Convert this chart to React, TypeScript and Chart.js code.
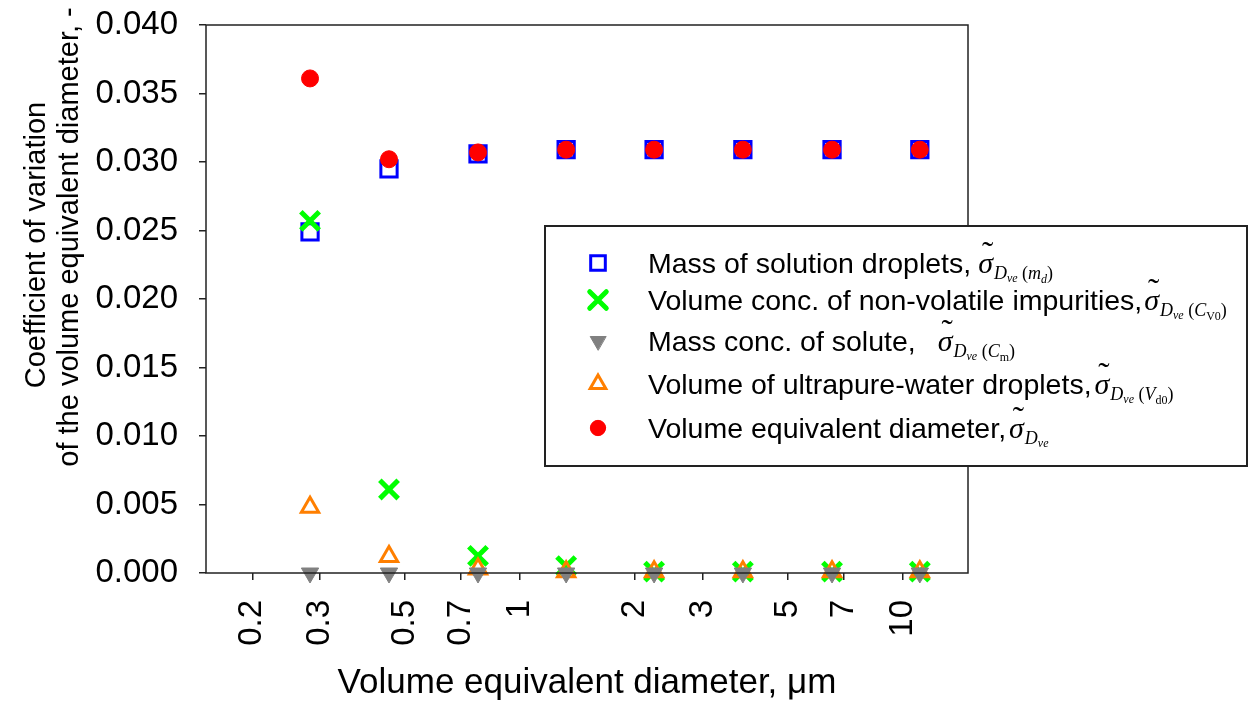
import React, { useEffect, useRef } from 'react';
import { Chart, registerables } from 'chart.js';

Chart.register(...registerables);

// ---- data ----
const diameters = [0.283, 0.455, 0.777, 1.32, 2.24, 3.82, 6.53, 11.07];
const massSolutionDroplets = [0.0249, 0.0295, 0.0306, 0.0309, 0.0309, 0.0309, 0.0309, 0.0309];
const volConcImpurities = [0.0257, 0.0061, 0.00125, 0.0005, 0.0001, 0.0001, 0.0001, 0.0001];
const massConcSolute = [0, 0, 0, 0, 0, 0, 0, 0];
const volUltrapureWater = [0.0048, 0.0012, 0.0003, 0.0001, 0.0001, 0.0001, 0.0001, 0.0001];
const volEquivDiameter = [0.0361, 0.0302, 0.0307, 0.0309, 0.0309, 0.0309, 0.0309, 0.0309];

const xTickValues = [0.2, 0.3, 0.5, 0.7, 1, 2, 3, 5, 7, 10];
const xTickLabels = ['0.2', '0.3', '0.5', '0.7', '1', '2', '3', '5', '7', '10'];
const yTickStep = 0.005;

const seriesLabels = [
  'Mass of solution droplets,',
  'Volume conc. of non-volatile impurities,',
  'Mass conc. of solute,',
  'Volume of ultrapure-water droplets,',
  'Volume equivalent diameter,',
];
const xTitle = 'Volume equivalent diameter, \u03bcm';
const yTitleLines = ['Coefficient of variation', 'of the volume equivalent diameter, -'];

const COLORS = {
  blue: '#0000ff',
  green: '#00ff00',
  gray: '#808080',
  orange: '#ff7f00',
  red: '#ff0000',
};

const SANS = '"Liberation Sans", Arial, sans-serif';
const SERIF = '"Liberation Serif", "Times New Roman", serif';

type Run = { t: string; f: string; dy: number };

const subRuns = (inner: Run[]): Run[] => {
  const runs: Run[] = [
    { t: 'D', f: `italic 18px ${SERIF}`, dy: 6 },
    { t: 've', f: `italic 12px ${SERIF}`, dy: 9 },
  ];
  if (inner.length) {
    runs.push({ t: ' (', f: `18px ${SERIF}`, dy: 6 });
    runs.push(...inner);
    runs.push({ t: ')', f: `18px ${SERIF}`, dy: 6 });
  }
  return runs;
};

const legendMath: Run[][] = [
  subRuns([
    { t: 'm', f: `italic 18px ${SERIF}`, dy: 6 },
    { t: 'd', f: `italic 12px ${SERIF}`, dy: 10 },
  ]),
  subRuns([
    { t: 'C', f: `italic 18px ${SERIF}`, dy: 6 },
    { t: 'V0', f: `12px ${SERIF}`, dy: 10 },
  ]),
  subRuns([
    { t: 'C', f: `italic 18px ${SERIF}`, dy: 6 },
    { t: 'm', f: `12px ${SERIF}`, dy: 10 },
  ]),
  subRuns([
    { t: 'V', f: `italic 18px ${SERIF}`, dy: 6 },
    { t: 'd0', f: `12px ${SERIF}`, dy: 10 },
  ]),
  subRuns([]),
];
const legendGaps = [7, 2, 22, 3, 3];

type Marker = { style: string; color: string; fill: boolean; r: number; lw: number; rot: number };
const markers: Marker[] = [
  { style: 'rect', color: COLORS.blue, fill: false, r: 11.5, lw: 3, rot: 0 },
  { style: 'crossRot', color: COLORS.green, fill: false, r: 13, lw: 5, rot: 0 },
  { style: 'triangle', color: COLORS.gray, fill: true, r: 10, lw: 1, rot: 180 },
  { style: 'triangle', color: COLORS.orange, fill: false, r: 10, lw: 3, rot: 0 },
  { style: 'circle', color: COLORS.red, fill: true, r: 8.5, lw: 1, rot: 0 },
];

function drawMarker(ctx: CanvasRenderingContext2D, m: Marker, x: number, y: number, scale = 1) {
  const r = m.r * scale;
  ctx.save();
  ctx.strokeStyle = m.color;
  ctx.fillStyle = m.color;
  ctx.lineWidth = m.lw;
  ctx.lineCap = 'round';
  ctx.lineJoin = 'miter';
  ctx.beginPath();
  if (m.style === 'rect') {
    const s = Math.SQRT1_2 * r;
    ctx.rect(x - s, y - s, 2 * s, 2 * s);
  } else if (m.style === 'circle') {
    ctx.arc(x, y, r, 0, Math.PI * 2);
  } else if (m.style === 'triangle') {
    let a = (m.rot * Math.PI) / 180;
    ctx.moveTo(x + Math.sin(a) * r, y - Math.cos(a) * r);
    a += (2 * Math.PI) / 3;
    ctx.lineTo(x + Math.sin(a) * r, y - Math.cos(a) * r);
    a += (2 * Math.PI) / 3;
    ctx.lineTo(x + Math.sin(a) * r, y - Math.cos(a) * r);
    ctx.closePath();
  } else if (m.style === 'crossRot') {
    const d = Math.SQRT1_2 * r;
    ctx.moveTo(x - d, y - d);
    ctx.lineTo(x + d, y + d);
    ctx.moveTo(x + d, y - d);
    ctx.lineTo(x - d, y + d);
  }
  if (m.fill) ctx.fill();
  ctx.stroke();
  ctx.restore();
}

const decorPlugin = {
  id: 'decor',
  afterDraw(chart: any) {
    const ctx: CanvasRenderingContext2D = chart.ctx;
    const a = chart.chartArea;
    ctx.save();
    // plot frame
    ctx.strokeStyle = '#222';
    ctx.lineWidth = 1.5;
    ctx.strokeRect(a.left, a.top, a.right - a.left, a.bottom - a.top);

    // y axis title (two lines)
    ctx.fillStyle = '#000';
    ctx.font = `29px ${SANS}`;
    ctx.textAlign = 'center';
    ctx.textBaseline = 'middle';
    const yPos = [
      [37, 245],
      [70, 237],
    ];
    yTitleLines.forEach((line, i) => {
      ctx.save();
      ctx.translate(yPos[i][0], yPos[i][1]);
      ctx.rotate(-Math.PI / 2);
      ctx.fillText(line, 0, 0);
      ctx.restore();
    });

    // legend box
    const L = { left: 545, top: 226, right: 1247, bottom: 466 };
    ctx.fillStyle = '#fff';
    ctx.fillRect(L.left, L.top, L.right - L.left, L.bottom - L.top);
    ctx.strokeStyle = '#222';
    ctx.lineWidth = 2;
    ctx.strokeRect(L.left, L.top, L.right - L.left, L.bottom - L.top);

    const rowY = [263, 300, 341, 384, 428];
    seriesLabels.forEach((label, i) => {
      const cy = rowY[i];
      drawMarker(ctx, markers[i], 598, cy, 0.9);
      const base = cy + 10;
      ctx.fillStyle = '#000';
      ctx.textAlign = 'left';
      ctx.textBaseline = 'alphabetic';
      ctx.font = `28.5px ${SANS}`;
      ctx.fillText(label, 648, base);
      let x = 648 + ctx.measureText(label).width + legendGaps[i];
      // sigma with tilde
      ctx.font = `italic 30px ${SERIF}`;
      ctx.fillText('\u03c3', x, base);
      const sw = ctx.measureText('\u03c3').width;
      ctx.font = `34px ${SERIF}`;
      ctx.textAlign = 'center';
      ctx.fillText('\u02dc', x + sw / 2 + 2, base - 8);
      ctx.textAlign = 'left';
      x += sw + 1;
      legendMath[i].forEach((run) => {
        ctx.font = run.f;
        ctx.fillText(run.t, x, base + run.dy);
        x += ctx.measureText(run.t).width;
      });
    });
    ctx.restore();
  },
};

function buildDatasets() {
  const series = [
    massSolutionDroplets,
    volConcImpurities,
    massConcSolute,
    volUltrapureWater,
    volEquivDiameter,
  ];
  const orders = [5, 4, 2, 3, 1];
  return series.map((vals, i) => {
    const m = markers[i];
    return {
      label: seriesLabels[i],
      data: diameters.map((d, j) => ({ x: d, y: vals[j] })),
      showLine: false,
      pointStyle: m.style,
      pointRadius: m.r,
      pointHoverRadius: m.r,
      pointRotation: m.rot,
      pointBorderWidth: m.lw,
      borderColor: m.color,
      backgroundColor: m.fill ? m.color : 'rgba(0,0,0,0)',
      clip: false as any,
      order: orders[i],
    };
  });
}

export default function App() {
  const canvasRef = useRef<HTMLCanvasElement | null>(null);

  useEffect(() => {
    const canvas = canvasRef.current;
    if (!canvas) return;
    const chart = new Chart(canvas, {
      type: 'scatter',
      data: { datasets: buildDatasets() as any },
      options: {
        responsive: false,
        animation: false,
        devicePixelRatio: 1,
        layout: { padding: { top: 25, right: 288, bottom: 0, left: 0 } },
        plugins: {
          legend: { display: false },
          tooltip: { enabled: false },
        },
        scales: {
          x: {
            type: 'logarithmic',
            min: 0.1514,
            max: 14.79,
            afterBuildTicks: (scale: any) => {
              scale.ticks = xTickValues.map((v) => ({ value: v }));
            },
            afterFit: (scale: any) => {
              scale.height = 131;
              scale.paddingLeft = 0;
              scale.paddingRight = 0;
            },
            ticks: {
              autoSkip: false,
              minRotation: 90,
              maxRotation: 90,
              padding: 20,
              color: '#000',
              font: { family: SANS, size: 33 },
              callback: (v: any) => {
                const idx = xTickValues.indexOf(Number(v));
                return idx >= 0 ? xTickLabels[idx] : '';
              },
            },
            grid: {
              drawOnChartArea: false,
              drawTicks: true,
              tickLength: 7,
              color: '#222',
              lineWidth: 1.5,
            },
            border: { display: false },
            title: {
              display: true,
              text: xTitle,
              color: '#000',
              font: { family: SANS, size: 35 },
              padding: { top: 0, bottom: 0 },
            },
          },
          y: {
            type: 'linear',
            min: 0,
            max: 0.04,
            afterFit: (scale: any) => {
              scale.width = 206;
              scale.paddingTop = 0;
              scale.paddingBottom = 0;
            },
            ticks: {
              stepSize: yTickStep,
              padding: 21,
              color: '#000',
              font: { family: SANS, size: 33 },
              callback: (v: any) => Number(v).toFixed(3),
            },
            grid: {
              drawOnChartArea: false,
              drawTicks: true,
              tickLength: 7,
              color: '#222',
              lineWidth: 1.5,
            },
            border: { display: false },
          },
        },
      },
      plugins: [decorPlugin],
    });
    return () => chart.destroy();
  }, []);

  return (
    <div style={{ position: 'fixed', left: 0, top: 0, width: 1256, height: 704, background: '#fff' }}>
      <canvas ref={canvasRef} width={1256} height={704} style={{ display: 'block' }} />
    </div>
  );
}
